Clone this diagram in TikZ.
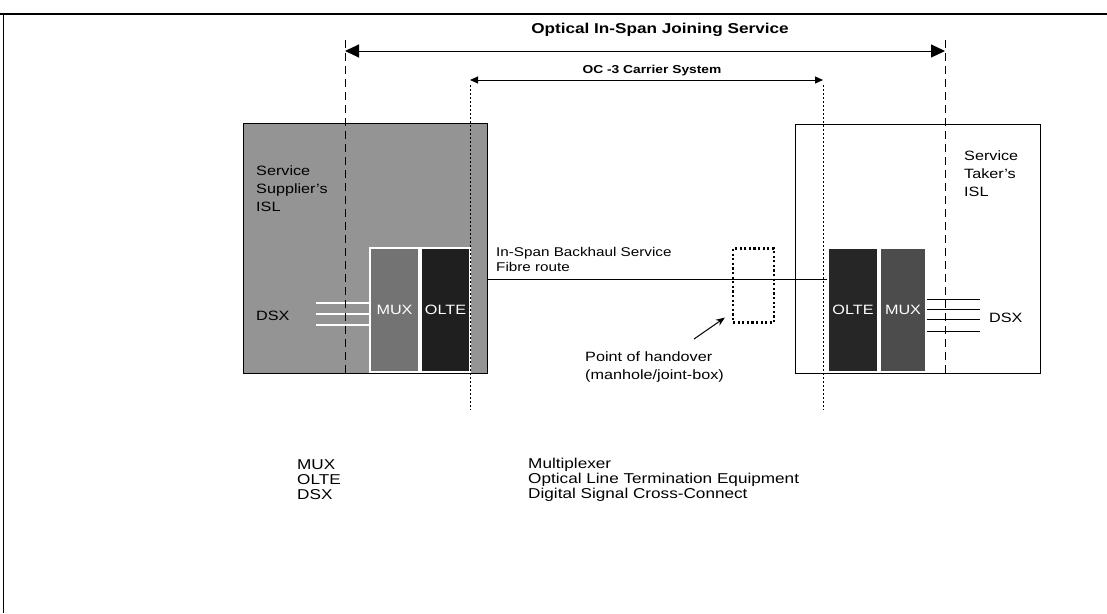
\documentclass[tikz,border=0pt]{standalone}
\usepackage{fontspec}
\setmainfont{Liberation Sans}[FakeStretch=1.2]
\usetikzlibrary{arrows.meta}
\tikzset{
  lbl/.style={inner sep=0pt, font=\fontsize{13.5}{18}\selectfont},
  lgd/.style={inner sep=0pt, anchor=west, font=\fontsize{14.3}{15}\selectfont},
  dashln/.style={line width=1pt, dash pattern=on 8pt off 5pt},
  dotln/.style={line width=1pt, dash pattern=on 1.5pt off 2.5pt},
  eqbox/.style={inner sep=0pt, draw=white, line width=1.2pt, minimum width=49pt, minimum height=124pt, font=\fontsize{13.5}{17}\selectfont},
  dsxl/.style={line width=0.5pt, double=white, double distance=1.6pt},
  bigtip/.style={{Triangle[length=14pt,width=13pt]}-{Triangle[length=14pt,width=13pt]}, line width=1pt},
  smalltip/.style={{Triangle[length=8pt,width=7pt]}-{Triangle[length=8pt,width=7pt]}, line width=1pt}
}
\begin{document}
\begin{tikzpicture}[x=1pt,y=-1pt]
\useasboundingbox (0,0) rectangle (1107,613);
% outer frame
\coordinate (f0) at (0,14);
\coordinate (f1) at (1107,14);
\coordinate (f2) at (3,14);
\coordinate (f3) at (3,613);
\draw[line width=1.5pt] (f0) -- (f1);
\draw[line width=0.8pt] (f2) -- (f3);

% left ISL box
\node[draw=black, line width=1pt, fill=black!42, minimum width=244pt, minimum height=250pt, inner sep=0pt] (lbox) at (365,248) {};
\node[lbl, anchor=north west, align=left] (ltxt) at (256,166) {Service\\Supplier's\\ISL};
\node[eqbox, fill=black!55, text=white] (lmux) at (394.5,310) {MUX};
\node[eqbox, fill=black!88, text=white] (lolte) at (445.5,310) {OLTE};
\node[lbl, anchor=west] (ldsx) at (256,316) {DSX};
\coordinate (ld1) at (316,303);
\coordinate (ld2) at (316,314);
\coordinate (ld3) at (316,325);
\draw[dsxl] (ld1) -- (ld1 -| lmux.west);
\draw[dsxl] (ld2) -- (ld2 -| lmux.west);
\draw[dsxl] (ld3) -- (ld3 -| lmux.west);

% right ISL box
\node[draw=black, line width=0.8pt, fill=white, minimum width=245pt, minimum height=249pt, inner sep=0pt] (rbox) at (917.5,248.5) {};
\node[lbl, anchor=north west, align=left] (rtxt) at (964,151) {Service\\Taker's\\ISL};
\node[eqbox, fill=black!85, text=white, minimum width=50pt] (rolte) at (853,310) {OLTE};
\node[eqbox, fill=black!70, text=white, minimum width=46pt] (rmux) at (903,310) {MUX};
\coordinate (rd1) at (980,299);
\coordinate (rd2) at (980,309);
\coordinate (rd3) at (980,319);
\coordinate (rd4) at (980,331);
\draw[line width=1pt] (rmux.east |- rd1) -- (rd1);
\draw[line width=1pt] (rmux.east |- rd2) -- (rd2);
\draw[line width=1pt] (rmux.east |- rd3) -- (rd3);
\draw[line width=1pt] (rmux.east |- rd4) -- (rd4);
\node[lbl, anchor=west] (rdsx) at (989,318) {DSX};

% dashed service boundaries
\coordinate (d1t) at (345,40);
\coordinate (d1b) at (345,375);
\coordinate (d2t) at (945,40);
\coordinate (d2b) at (945,375);
\draw[dashln] (d1t) -- (d1b);
\draw[dashln] (d2t) -- (d2b);

% dotted carrier boundaries
\coordinate (c1t) at (470,85);
\coordinate (c1b) at (470,410);
\coordinate (c2t) at (823,85);
\coordinate (c2b) at (823,410);
\draw[dotln] (c1t) -- (c1b);
\draw[dotln] (c2t) -- (c2b);

% top arrows
\node[inner sep=0pt, font=\fontsize{14.3}{17}\bfseries\selectfont] (title) at (660,30) {Optical In-Span Joining Service};
\coordinate (ta) at (345,51);
\coordinate (tb) at (945,51);
\draw[bigtip] (ta) -- (tb);
\node[inner sep=0pt, font=\fontsize{11.5}{14}\bfseries\selectfont] (oc3) at (652,71) {OC -3 Carrier System};
\coordinate (oa) at (470,80);
\coordinate (ob) at (823,80);
\draw[smalltip] (oa) -- (ob);

% fibre route
\coordinate (fib) at (600,279);
\draw[line width=1pt] (lbox.east |- fib) -- (rolte.west |- fib);
\node[lbl, anchor=west, font=\fontsize{12.7}{15}\selectfont] (fib1) at (496,253) {In-Span Backhaul Service};
\node[lbl, anchor=west, font=\fontsize{12.7}{15}\selectfont] (fib2) at (496,267) {Fibre route};

% handover point
\node[draw=black, line width=2.2pt, dash pattern=on 2.2pt off 2.4pt, minimum width=41pt, minimum height=74pt, inner sep=0pt] (hand) at (753.5,285.5) {};
\coordinate (harr) at (694,339);
\draw[line width=1pt, -{Stealth[length=9pt,width=7pt]}] (harr) -- ([xshift=-7pt,yshift=6pt]hand.south west);
\node[lbl, anchor=north west, align=left] (htxt) at (585,352) {Point of handover\\(manhole/joint-box)};

% legend
\node[lgd] (k1) at (297,465) {MUX};
\node[lgd] (k2) at (297,480) {OLTE};
\node[lgd] (k3) at (297,495) {DSX};
\node[lgd] (v1) at (528,465) {Multiplexer};
\node[lgd] (v2) at (528,480) {Optical Line Termination Equipment};
\node[lgd] (v3) at (528,495) {Digital Signal Cross-Connect};
\end{tikzpicture}
\end{document}
